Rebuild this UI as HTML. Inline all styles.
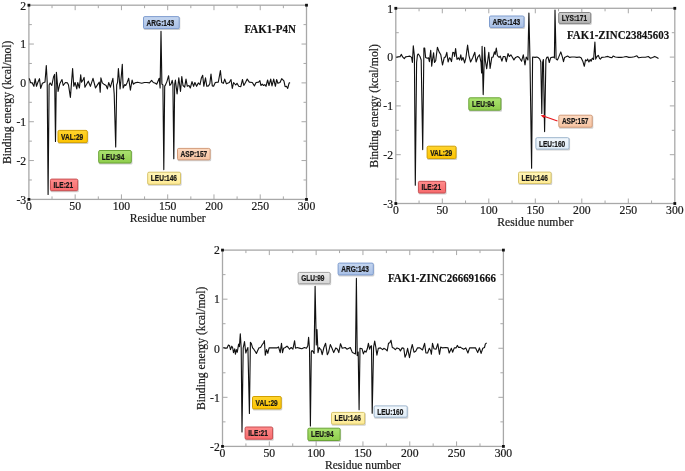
<!DOCTYPE html>
<html><head><meta charset="utf-8"><style>
html,body{margin:0;padding:0;background:#fff;width:685px;height:471px;overflow:hidden;}
svg{display:block;will-change:transform;}

</style></head><body>
<svg width="685" height="471" viewBox="0 0 685 471">
<defs>
<linearGradient id="g_blue" x1="0" y1="0" x2="0" y2="1"><stop offset="0" stop-color="#c5d6f0"/><stop offset="1" stop-color="#a9c0e6"/></linearGradient>
<linearGradient id="g_red" x1="0" y1="0" x2="0" y2="1"><stop offset="0" stop-color="#ff8c8c"/><stop offset="1" stop-color="#f76a6c"/></linearGradient>
<linearGradient id="g_gold" x1="0" y1="0" x2="0" y2="1"><stop offset="0" stop-color="#ffd52e"/><stop offset="1" stop-color="#fdc300"/></linearGradient>
<linearGradient id="g_green" x1="0" y1="0" x2="0" y2="1"><stop offset="0" stop-color="#abe271"/><stop offset="1" stop-color="#8fce4c"/></linearGradient>
<linearGradient id="g_yellow" x1="0" y1="0" x2="0" y2="1"><stop offset="0" stop-color="#fff5b8"/><stop offset="1" stop-color="#ffeb94"/></linearGradient>
<linearGradient id="g_peach" x1="0" y1="0" x2="0" y2="1"><stop offset="0" stop-color="#fcd9c0"/><stop offset="1" stop-color="#f6c3a1"/></linearGradient>
<linearGradient id="g_gray" x1="0" y1="0" x2="0" y2="1"><stop offset="0" stop-color="#cdcdcd"/><stop offset="1" stop-color="#b2b2b2"/></linearGradient>
<linearGradient id="g_lgray" x1="0" y1="0" x2="0" y2="1"><stop offset="0" stop-color="#ececec"/><stop offset="1" stop-color="#d5d5d5"/></linearGradient>
<linearGradient id="g_lblue" x1="0" y1="0" x2="0" y2="1"><stop offset="0" stop-color="#f3f8fd"/><stop offset="1" stop-color="#e0edf8"/></linearGradient>
</defs>
<rect width="685" height="471" fill="#fff"/>
<rect x="28.9" y="5.2" width="277.60" height="194.20" fill="none" stroke="#a8a8a8" stroke-width="1.3"/>
<line x1="52.03" y1="199.4" x2="52.03" y2="196.4" stroke="#a8a8a8" stroke-width="1"/>
<line x1="52.03" y1="5.2" x2="52.03" y2="8.2" stroke="#a8a8a8" stroke-width="1"/>
<line x1="75.17" y1="199.4" x2="75.17" y2="194.4" stroke="#a8a8a8" stroke-width="1"/>
<line x1="75.17" y1="5.2" x2="75.17" y2="10.2" stroke="#a8a8a8" stroke-width="1"/>
<line x1="98.30" y1="199.4" x2="98.30" y2="196.4" stroke="#a8a8a8" stroke-width="1"/>
<line x1="98.30" y1="5.2" x2="98.30" y2="8.2" stroke="#a8a8a8" stroke-width="1"/>
<line x1="121.43" y1="199.4" x2="121.43" y2="194.4" stroke="#a8a8a8" stroke-width="1"/>
<line x1="121.43" y1="5.2" x2="121.43" y2="10.2" stroke="#a8a8a8" stroke-width="1"/>
<line x1="144.57" y1="199.4" x2="144.57" y2="196.4" stroke="#a8a8a8" stroke-width="1"/>
<line x1="144.57" y1="5.2" x2="144.57" y2="8.2" stroke="#a8a8a8" stroke-width="1"/>
<line x1="167.70" y1="199.4" x2="167.70" y2="194.4" stroke="#a8a8a8" stroke-width="1"/>
<line x1="167.70" y1="5.2" x2="167.70" y2="10.2" stroke="#a8a8a8" stroke-width="1"/>
<line x1="190.83" y1="199.4" x2="190.83" y2="196.4" stroke="#a8a8a8" stroke-width="1"/>
<line x1="190.83" y1="5.2" x2="190.83" y2="8.2" stroke="#a8a8a8" stroke-width="1"/>
<line x1="213.97" y1="199.4" x2="213.97" y2="194.4" stroke="#a8a8a8" stroke-width="1"/>
<line x1="213.97" y1="5.2" x2="213.97" y2="10.2" stroke="#a8a8a8" stroke-width="1"/>
<line x1="237.10" y1="199.4" x2="237.10" y2="196.4" stroke="#a8a8a8" stroke-width="1"/>
<line x1="237.10" y1="5.2" x2="237.10" y2="8.2" stroke="#a8a8a8" stroke-width="1"/>
<line x1="260.23" y1="199.4" x2="260.23" y2="194.4" stroke="#a8a8a8" stroke-width="1"/>
<line x1="260.23" y1="5.2" x2="260.23" y2="10.2" stroke="#a8a8a8" stroke-width="1"/>
<line x1="283.37" y1="199.4" x2="283.37" y2="196.4" stroke="#a8a8a8" stroke-width="1"/>
<line x1="283.37" y1="5.2" x2="283.37" y2="8.2" stroke="#a8a8a8" stroke-width="1"/>
<line x1="28.9" y1="179.98" x2="31.9" y2="179.98" stroke="#a8a8a8" stroke-width="1"/>
<line x1="306.5" y1="179.98" x2="303.5" y2="179.98" stroke="#a8a8a8" stroke-width="1"/>
<line x1="28.9" y1="160.56" x2="33.9" y2="160.56" stroke="#a8a8a8" stroke-width="1"/>
<line x1="306.5" y1="160.56" x2="301.5" y2="160.56" stroke="#a8a8a8" stroke-width="1"/>
<line x1="28.9" y1="141.14" x2="31.9" y2="141.14" stroke="#a8a8a8" stroke-width="1"/>
<line x1="306.5" y1="141.14" x2="303.5" y2="141.14" stroke="#a8a8a8" stroke-width="1"/>
<line x1="28.9" y1="121.72" x2="33.9" y2="121.72" stroke="#a8a8a8" stroke-width="1"/>
<line x1="306.5" y1="121.72" x2="301.5" y2="121.72" stroke="#a8a8a8" stroke-width="1"/>
<line x1="28.9" y1="102.30" x2="31.9" y2="102.30" stroke="#a8a8a8" stroke-width="1"/>
<line x1="306.5" y1="102.30" x2="303.5" y2="102.30" stroke="#a8a8a8" stroke-width="1"/>
<line x1="28.9" y1="82.88" x2="33.9" y2="82.88" stroke="#a8a8a8" stroke-width="1"/>
<line x1="306.5" y1="82.88" x2="301.5" y2="82.88" stroke="#a8a8a8" stroke-width="1"/>
<line x1="28.9" y1="63.46" x2="31.9" y2="63.46" stroke="#a8a8a8" stroke-width="1"/>
<line x1="306.5" y1="63.46" x2="303.5" y2="63.46" stroke="#a8a8a8" stroke-width="1"/>
<line x1="28.9" y1="44.04" x2="33.9" y2="44.04" stroke="#a8a8a8" stroke-width="1"/>
<line x1="306.5" y1="44.04" x2="301.5" y2="44.04" stroke="#a8a8a8" stroke-width="1"/>
<line x1="28.9" y1="24.62" x2="31.9" y2="24.62" stroke="#a8a8a8" stroke-width="1"/>
<line x1="306.5" y1="24.62" x2="303.5" y2="24.62" stroke="#a8a8a8" stroke-width="1"/>
<rect x="27.50" y="3.80" width="2.8" height="2.8" fill="#111"/>
<rect x="305.10" y="3.80" width="2.8" height="2.8" fill="#111"/>
<rect x="27.50" y="198.00" width="2.8" height="2.8" fill="#111"/>
<rect x="305.10" y="198.00" width="2.8" height="2.8" fill="#111"/>
<text x="28.90" y="210.30" text-anchor="middle" font-family="Liberation Serif" font-size="11.7" fill="#1a1a1a" stroke="#1a1a1a" stroke-width="0.2">0</text>
<text x="75.17" y="210.30" text-anchor="middle" font-family="Liberation Serif" font-size="11.7" fill="#1a1a1a" stroke="#1a1a1a" stroke-width="0.2">50</text>
<text x="121.43" y="210.30" text-anchor="middle" font-family="Liberation Serif" font-size="11.7" fill="#1a1a1a" stroke="#1a1a1a" stroke-width="0.2">100</text>
<text x="167.70" y="210.30" text-anchor="middle" font-family="Liberation Serif" font-size="11.7" fill="#1a1a1a" stroke="#1a1a1a" stroke-width="0.2">150</text>
<text x="213.97" y="210.30" text-anchor="middle" font-family="Liberation Serif" font-size="11.7" fill="#1a1a1a" stroke="#1a1a1a" stroke-width="0.2">200</text>
<text x="260.23" y="210.30" text-anchor="middle" font-family="Liberation Serif" font-size="11.7" fill="#1a1a1a" stroke="#1a1a1a" stroke-width="0.2">250</text>
<text x="306.50" y="210.30" text-anchor="middle" font-family="Liberation Serif" font-size="11.7" fill="#1a1a1a" stroke="#1a1a1a" stroke-width="0.2">300</text>
<text x="26.20" y="203.70" text-anchor="end" font-family="Liberation Serif" font-size="11.7" fill="#1a1a1a" stroke="#1a1a1a" stroke-width="0.2">-3</text>
<text x="26.20" y="164.86" text-anchor="end" font-family="Liberation Serif" font-size="11.7" fill="#1a1a1a" stroke="#1a1a1a" stroke-width="0.2">-2</text>
<text x="26.20" y="126.02" text-anchor="end" font-family="Liberation Serif" font-size="11.7" fill="#1a1a1a" stroke="#1a1a1a" stroke-width="0.2">-1</text>
<text x="26.20" y="87.18" text-anchor="end" font-family="Liberation Serif" font-size="11.7" fill="#1a1a1a" stroke="#1a1a1a" stroke-width="0.2">0</text>
<text x="26.20" y="48.34" text-anchor="end" font-family="Liberation Serif" font-size="11.7" fill="#1a1a1a" stroke="#1a1a1a" stroke-width="0.2">1</text>
<text x="26.20" y="9.50" text-anchor="end" font-family="Liberation Serif" font-size="11.7" fill="#1a1a1a" stroke="#1a1a1a" stroke-width="0.2">2</text>
<text x="167.70" y="221.90" text-anchor="middle" font-family="Liberation Serif" font-size="11.7" fill="#1a1a1a" stroke="#1a1a1a" stroke-width="0.2" textLength="76" lengthAdjust="spacingAndGlyphs">Residue number</text>
<text transform="translate(11.10,102.30) rotate(-90)" x="0" y="0" text-anchor="middle" font-family="Liberation Serif" font-size="11.7" fill="#1a1a1a" stroke="#1a1a1a" stroke-width="0.2" textLength="123.5" lengthAdjust="spacingAndGlyphs">Binding energy (kcal/mol)</text>
<path d="M29.30,78.30 L30.50,82.50 L32.20,82.90 L33.90,86.30 L35.20,78.70 L36.50,86.30 L37.80,82.50 L39.50,78.70 L40.70,88.40 L42.40,83.30 L45.00,82.10 L46.30,65.50 L47.20,82.00 L48.10,194.40 L49.10,85.00 L50.10,82.90 L51.80,85.50 L53.50,77.00 L54.60,74.40 L55.50,141.50 L56.40,72.30 L58.10,91.40 L59.80,83.80 L62.00,79.50 L63.20,85.50 L65.40,82.50 L67.50,82.90 L68.50,85.00 L70.40,97.40 L72.60,68.50 L73.80,86.30 L75.10,82.50 L76.80,88.90 L77.70,82.50 L79.40,88.00 L80.70,74.90 L81.50,82.10 L82.80,80.40 L84.10,77.40 L84.90,87.20 L86.60,84.20 L88.30,81.20 L90.40,86.30 L93.00,78.30 L95.50,88.00 L97.60,84.60 L99.30,82.10 L100.20,92.30 L100.90,77.80 L102.30,82.90 L104.40,84.60 L106.10,85.50 L107.40,88.90 L108.70,82.50 L110.40,87.20 L112.90,78.30 L114.20,94.00 L115.70,147.00 L116.70,85.00 L117.60,82.10 L118.40,68.50 L120.10,88.90 L121.40,75.00 L122.30,64.20 L123.10,88.00 L124.80,84.60 L125.70,85.50 L127.00,82.90 L128.70,78.30 L130.40,90.10 L132.10,80.00 L133.30,84.20 L135.00,82.90 L137.60,82.20 L141.80,83.30 L144.40,82.50 L146.90,82.50 L149.50,82.90 L151.60,80.40 L153.30,82.50 L155.40,83.30 L156.70,84.20 L158.00,81.20 L159.20,78.30 L160.10,88.00 L161.00,31.30 L161.90,84.00 L162.90,85.00 L163.80,169.60 L164.70,86.00 L165.20,85.50 L166.90,81.60 L168.60,75.70 L169.80,85.50 L171.10,83.80 L172.20,80.40 L172.90,84.00 L173.80,158.70 L174.70,84.00 L175.40,80.00 L177.10,94.00 L178.80,77.80 L180.50,91.40 L181.80,76.60 L183.00,85.50 L184.70,87.20 L186.00,79.10 L187.30,86.30 L189.00,85.50 L190.30,88.00 L192.00,81.60 L193.60,86.30 L194.90,82.50 L196.60,86.30 L198.30,82.90 L200.00,84.60 L201.30,78.30 L202.70,75.30 L203.80,86.30 L205.50,77.80 L206.80,86.30 L208.50,85.90 L209.80,83.80 L211.00,74.00 L212.30,85.90 L213.60,86.30 L215.30,82.50 L218.30,82.10 L220.40,70.60 L221.70,82.50 L223.40,83.30 L224.70,79.10 L226.40,83.80 L229.30,82.50 L231.00,79.50 L232.30,88.40 L233.60,82.50 L235.70,85.00 L237.00,83.30 L238.70,86.30 L240.80,86.70 L242.50,79.50 L243.80,85.50 L245.50,82.50 L247.20,79.10 L249.30,82.10 L252.30,82.50 L254.40,85.90 L256.10,82.50 L258.60,82.10 L259.90,80.60 L260.90,85.50 L262.20,84.20 L263.50,85.50 L264.80,84.60 L266.00,86.30 L267.60,80.00 L269.00,85.50 L270.70,79.10 L272.00,85.90 L273.70,79.10 L275.40,86.30 L276.60,79.50 L277.90,83.30 L280.00,82.50 L281.70,78.70 L283.90,80.80 L285.10,86.70 L286.40,86.30 L287.70,88.40 L289.00,83.30 L290.00,82.50" fill="none" stroke="#111" stroke-width="1.12" stroke-linejoin="round"/>
<rect x="395.8" y="8.3" width="279.00" height="195.20" fill="none" stroke="#a8a8a8" stroke-width="1.3"/>
<line x1="419.05" y1="203.5" x2="419.05" y2="200.5" stroke="#a8a8a8" stroke-width="1"/>
<line x1="419.05" y1="8.3" x2="419.05" y2="11.3" stroke="#a8a8a8" stroke-width="1"/>
<line x1="442.30" y1="203.5" x2="442.30" y2="198.5" stroke="#a8a8a8" stroke-width="1"/>
<line x1="442.30" y1="8.3" x2="442.30" y2="13.3" stroke="#a8a8a8" stroke-width="1"/>
<line x1="465.55" y1="203.5" x2="465.55" y2="200.5" stroke="#a8a8a8" stroke-width="1"/>
<line x1="465.55" y1="8.3" x2="465.55" y2="11.3" stroke="#a8a8a8" stroke-width="1"/>
<line x1="488.80" y1="203.5" x2="488.80" y2="198.5" stroke="#a8a8a8" stroke-width="1"/>
<line x1="488.80" y1="8.3" x2="488.80" y2="13.3" stroke="#a8a8a8" stroke-width="1"/>
<line x1="512.05" y1="203.5" x2="512.05" y2="200.5" stroke="#a8a8a8" stroke-width="1"/>
<line x1="512.05" y1="8.3" x2="512.05" y2="11.3" stroke="#a8a8a8" stroke-width="1"/>
<line x1="535.30" y1="203.5" x2="535.30" y2="198.5" stroke="#a8a8a8" stroke-width="1"/>
<line x1="535.30" y1="8.3" x2="535.30" y2="13.3" stroke="#a8a8a8" stroke-width="1"/>
<line x1="558.55" y1="203.5" x2="558.55" y2="200.5" stroke="#a8a8a8" stroke-width="1"/>
<line x1="558.55" y1="8.3" x2="558.55" y2="11.3" stroke="#a8a8a8" stroke-width="1"/>
<line x1="581.80" y1="203.5" x2="581.80" y2="198.5" stroke="#a8a8a8" stroke-width="1"/>
<line x1="581.80" y1="8.3" x2="581.80" y2="13.3" stroke="#a8a8a8" stroke-width="1"/>
<line x1="605.05" y1="203.5" x2="605.05" y2="200.5" stroke="#a8a8a8" stroke-width="1"/>
<line x1="605.05" y1="8.3" x2="605.05" y2="11.3" stroke="#a8a8a8" stroke-width="1"/>
<line x1="628.30" y1="203.5" x2="628.30" y2="198.5" stroke="#a8a8a8" stroke-width="1"/>
<line x1="628.30" y1="8.3" x2="628.30" y2="13.3" stroke="#a8a8a8" stroke-width="1"/>
<line x1="651.55" y1="203.5" x2="651.55" y2="200.5" stroke="#a8a8a8" stroke-width="1"/>
<line x1="651.55" y1="8.3" x2="651.55" y2="11.3" stroke="#a8a8a8" stroke-width="1"/>
<line x1="395.8" y1="179.10" x2="398.8" y2="179.10" stroke="#a8a8a8" stroke-width="1"/>
<line x1="674.8" y1="179.10" x2="671.8" y2="179.10" stroke="#a8a8a8" stroke-width="1"/>
<line x1="395.8" y1="154.70" x2="400.8" y2="154.70" stroke="#a8a8a8" stroke-width="1"/>
<line x1="674.8" y1="154.70" x2="669.8" y2="154.70" stroke="#a8a8a8" stroke-width="1"/>
<line x1="395.8" y1="130.30" x2="398.8" y2="130.30" stroke="#a8a8a8" stroke-width="1"/>
<line x1="674.8" y1="130.30" x2="671.8" y2="130.30" stroke="#a8a8a8" stroke-width="1"/>
<line x1="395.8" y1="105.90" x2="400.8" y2="105.90" stroke="#a8a8a8" stroke-width="1"/>
<line x1="674.8" y1="105.90" x2="669.8" y2="105.90" stroke="#a8a8a8" stroke-width="1"/>
<line x1="395.8" y1="81.50" x2="398.8" y2="81.50" stroke="#a8a8a8" stroke-width="1"/>
<line x1="674.8" y1="81.50" x2="671.8" y2="81.50" stroke="#a8a8a8" stroke-width="1"/>
<line x1="395.8" y1="57.10" x2="400.8" y2="57.10" stroke="#a8a8a8" stroke-width="1"/>
<line x1="674.8" y1="57.10" x2="669.8" y2="57.10" stroke="#a8a8a8" stroke-width="1"/>
<line x1="395.8" y1="32.70" x2="398.8" y2="32.70" stroke="#a8a8a8" stroke-width="1"/>
<line x1="674.8" y1="32.70" x2="671.8" y2="32.70" stroke="#a8a8a8" stroke-width="1"/>
<rect x="394.40" y="6.90" width="2.8" height="2.8" fill="#111"/>
<rect x="673.40" y="6.90" width="2.8" height="2.8" fill="#111"/>
<rect x="394.40" y="202.10" width="2.8" height="2.8" fill="#111"/>
<rect x="673.40" y="202.10" width="2.8" height="2.8" fill="#111"/>
<text x="395.80" y="214.40" text-anchor="middle" font-family="Liberation Serif" font-size="11.7" fill="#1a1a1a" stroke="#1a1a1a" stroke-width="0.2">0</text>
<text x="442.30" y="214.40" text-anchor="middle" font-family="Liberation Serif" font-size="11.7" fill="#1a1a1a" stroke="#1a1a1a" stroke-width="0.2">50</text>
<text x="488.80" y="214.40" text-anchor="middle" font-family="Liberation Serif" font-size="11.7" fill="#1a1a1a" stroke="#1a1a1a" stroke-width="0.2">100</text>
<text x="535.30" y="214.40" text-anchor="middle" font-family="Liberation Serif" font-size="11.7" fill="#1a1a1a" stroke="#1a1a1a" stroke-width="0.2">150</text>
<text x="581.80" y="214.40" text-anchor="middle" font-family="Liberation Serif" font-size="11.7" fill="#1a1a1a" stroke="#1a1a1a" stroke-width="0.2">200</text>
<text x="628.30" y="214.40" text-anchor="middle" font-family="Liberation Serif" font-size="11.7" fill="#1a1a1a" stroke="#1a1a1a" stroke-width="0.2">250</text>
<text x="674.80" y="214.40" text-anchor="middle" font-family="Liberation Serif" font-size="11.7" fill="#1a1a1a" stroke="#1a1a1a" stroke-width="0.2">300</text>
<text x="393.10" y="207.80" text-anchor="end" font-family="Liberation Serif" font-size="11.7" fill="#1a1a1a" stroke="#1a1a1a" stroke-width="0.2">-3</text>
<text x="393.10" y="159.00" text-anchor="end" font-family="Liberation Serif" font-size="11.7" fill="#1a1a1a" stroke="#1a1a1a" stroke-width="0.2">-2</text>
<text x="393.10" y="110.20" text-anchor="end" font-family="Liberation Serif" font-size="11.7" fill="#1a1a1a" stroke="#1a1a1a" stroke-width="0.2">-1</text>
<text x="393.10" y="61.40" text-anchor="end" font-family="Liberation Serif" font-size="11.7" fill="#1a1a1a" stroke="#1a1a1a" stroke-width="0.2">0</text>
<text x="393.10" y="12.60" text-anchor="end" font-family="Liberation Serif" font-size="11.7" fill="#1a1a1a" stroke="#1a1a1a" stroke-width="0.2">1</text>
<text x="535.30" y="226.00" text-anchor="middle" font-family="Liberation Serif" font-size="11.7" fill="#1a1a1a" stroke="#1a1a1a" stroke-width="0.2" textLength="76" lengthAdjust="spacingAndGlyphs">Residue number</text>
<text transform="translate(378.00,105.90) rotate(-90)" x="0" y="0" text-anchor="middle" font-family="Liberation Serif" font-size="11.7" fill="#1a1a1a" stroke="#1a1a1a" stroke-width="0.2" textLength="123.5" lengthAdjust="spacingAndGlyphs">Binding energy (kcal/mol)</text>
<path d="M396.30,57.40 L398.40,56.70 L400.10,56.50 L401.40,54.40 L402.60,56.90 L404.30,58.60 L405.60,56.90 L407.70,56.50 L409.90,56.10 L411.60,57.40 L412.40,62.50 L413.30,45.90 L414.40,56.00 L415.30,185.20 L416.60,62.50 L417.50,54.80 L418.30,54.00 L420.00,56.50 L421.20,60.00 L422.70,149.60 L423.90,48.00 L424.70,48.00 L425.60,57.40 L427.30,58.20 L428.50,57.80 L429.40,61.60 L430.70,50.20 L431.70,66.30 L432.80,57.80 L433.60,52.70 L434.50,62.50 L435.70,60.80 L437.40,47.20 L439.10,51.90 L440.80,54.80 L442.50,65.00 L444.30,57.40 L445.50,57.00 L446.80,52.30 L448.10,62.00 L449.40,57.80 L450.20,58.20 L451.50,61.60 L452.80,52.30 L454.00,52.70 L454.60,56.50 L455.60,48.50 L457.00,59.50 L458.30,57.80 L459.60,59.90 L460.80,54.80 L461.70,60.30 L463.00,57.40 L464.60,62.90 L465.90,57.80 L467.60,45.10 L468.90,55.30 L470.60,62.00 L472.70,57.80 L474.80,52.30 L476.10,62.00 L477.80,57.00 L479.50,54.80 L481.00,62.50 L481.60,73.00 L482.10,46.30 L483.20,94.60 L484.60,47.20 L485.40,60.80 L486.70,68.80 L488.80,52.30 L490.10,68.40 L491.80,57.40 L493.10,57.00 L494.40,51.90 L495.20,54.40 L496.30,48.00 L497.40,55.70 L499.10,57.40 L500.30,56.10 L501.90,61.20 L503.30,56.50 L505.00,56.50 L506.30,61.60 L508.00,53.60 L509.30,56.50 L510.90,54.80 L512.20,57.00 L513.90,59.90 L515.60,57.40 L517.70,56.50 L519.40,57.80 L521.60,61.20 L523.30,54.80 L525.00,65.00 L526.20,57.00 L527.90,59.90 L528.90,13.00 L530.00,60.80 L531.60,168.30 L532.60,57.00 L535.10,57.40 L536.80,57.00 L538.50,57.80 L539.80,59.10 L540.80,62.00 L541.80,113.50 L542.60,62.50 L543.40,59.50 L544.60,131.60 L545.90,59.90 L546.80,57.40 L548.00,57.00 L549.30,62.50 L550.60,57.80 L551.90,57.40 L553.60,57.00 L554.40,58.00 L555.00,10.10 L556.10,59.10 L557.40,59.90 L558.60,57.40 L560.80,51.90 L562.50,57.40 L563.50,61.60 L564.60,57.40 L567.60,56.10 L569.70,57.40 L571.80,57.00 L574.40,57.00 L576.90,57.40 L579.40,57.00 L581.10,57.80 L582.80,61.20 L584.30,66.30 L585.50,59.90 L586.80,60.80 L587.70,59.10 L588.90,62.00 L590.20,59.50 L591.10,61.20 L592.30,58.20 L593.60,59.50 L594.90,42.10 L595.70,59.10 L597.00,56.50 L598.30,55.30 L599.60,58.60 L600.40,59.10 L601.70,57.40 L605.10,57.00 L608.00,56.40 L610.20,57.40 L611.90,57.80 L613.10,56.10 L615.30,57.00 L618.70,57.40 L621.20,57.40 L623.70,57.00 L626.30,56.50 L628.80,57.40 L631.80,57.20 L634.30,56.70 L636.90,55.80 L638.60,57.80 L642.00,57.20 L645.40,57.20 L648.30,56.50 L650.50,58.20 L652.60,57.40 L654.70,56.40 L656.80,57.40 L658.50,58.40" fill="none" stroke="#111" stroke-width="1.12" stroke-linejoin="round"/>
<rect x="222.5" y="250.1" width="280.90" height="196.30" fill="none" stroke="#a8a8a8" stroke-width="1.3"/>
<line x1="245.91" y1="446.4" x2="245.91" y2="443.4" stroke="#a8a8a8" stroke-width="1"/>
<line x1="245.91" y1="250.1" x2="245.91" y2="253.1" stroke="#a8a8a8" stroke-width="1"/>
<line x1="269.32" y1="446.4" x2="269.32" y2="441.4" stroke="#a8a8a8" stroke-width="1"/>
<line x1="269.32" y1="250.1" x2="269.32" y2="255.1" stroke="#a8a8a8" stroke-width="1"/>
<line x1="292.73" y1="446.4" x2="292.73" y2="443.4" stroke="#a8a8a8" stroke-width="1"/>
<line x1="292.73" y1="250.1" x2="292.73" y2="253.1" stroke="#a8a8a8" stroke-width="1"/>
<line x1="316.13" y1="446.4" x2="316.13" y2="441.4" stroke="#a8a8a8" stroke-width="1"/>
<line x1="316.13" y1="250.1" x2="316.13" y2="255.1" stroke="#a8a8a8" stroke-width="1"/>
<line x1="339.54" y1="446.4" x2="339.54" y2="443.4" stroke="#a8a8a8" stroke-width="1"/>
<line x1="339.54" y1="250.1" x2="339.54" y2="253.1" stroke="#a8a8a8" stroke-width="1"/>
<line x1="362.95" y1="446.4" x2="362.95" y2="441.4" stroke="#a8a8a8" stroke-width="1"/>
<line x1="362.95" y1="250.1" x2="362.95" y2="255.1" stroke="#a8a8a8" stroke-width="1"/>
<line x1="386.36" y1="446.4" x2="386.36" y2="443.4" stroke="#a8a8a8" stroke-width="1"/>
<line x1="386.36" y1="250.1" x2="386.36" y2="253.1" stroke="#a8a8a8" stroke-width="1"/>
<line x1="409.77" y1="446.4" x2="409.77" y2="441.4" stroke="#a8a8a8" stroke-width="1"/>
<line x1="409.77" y1="250.1" x2="409.77" y2="255.1" stroke="#a8a8a8" stroke-width="1"/>
<line x1="433.17" y1="446.4" x2="433.17" y2="443.4" stroke="#a8a8a8" stroke-width="1"/>
<line x1="433.17" y1="250.1" x2="433.17" y2="253.1" stroke="#a8a8a8" stroke-width="1"/>
<line x1="456.58" y1="446.4" x2="456.58" y2="441.4" stroke="#a8a8a8" stroke-width="1"/>
<line x1="456.58" y1="250.1" x2="456.58" y2="255.1" stroke="#a8a8a8" stroke-width="1"/>
<line x1="479.99" y1="446.4" x2="479.99" y2="443.4" stroke="#a8a8a8" stroke-width="1"/>
<line x1="479.99" y1="250.1" x2="479.99" y2="253.1" stroke="#a8a8a8" stroke-width="1"/>
<line x1="222.5" y1="421.86" x2="225.5" y2="421.86" stroke="#a8a8a8" stroke-width="1"/>
<line x1="503.4" y1="421.86" x2="500.4" y2="421.86" stroke="#a8a8a8" stroke-width="1"/>
<line x1="222.5" y1="397.32" x2="227.5" y2="397.32" stroke="#a8a8a8" stroke-width="1"/>
<line x1="503.4" y1="397.32" x2="498.4" y2="397.32" stroke="#a8a8a8" stroke-width="1"/>
<line x1="222.5" y1="372.79" x2="225.5" y2="372.79" stroke="#a8a8a8" stroke-width="1"/>
<line x1="503.4" y1="372.79" x2="500.4" y2="372.79" stroke="#a8a8a8" stroke-width="1"/>
<line x1="222.5" y1="348.25" x2="227.5" y2="348.25" stroke="#a8a8a8" stroke-width="1"/>
<line x1="503.4" y1="348.25" x2="498.4" y2="348.25" stroke="#a8a8a8" stroke-width="1"/>
<line x1="222.5" y1="323.71" x2="225.5" y2="323.71" stroke="#a8a8a8" stroke-width="1"/>
<line x1="503.4" y1="323.71" x2="500.4" y2="323.71" stroke="#a8a8a8" stroke-width="1"/>
<line x1="222.5" y1="299.18" x2="227.5" y2="299.18" stroke="#a8a8a8" stroke-width="1"/>
<line x1="503.4" y1="299.18" x2="498.4" y2="299.18" stroke="#a8a8a8" stroke-width="1"/>
<line x1="222.5" y1="274.64" x2="225.5" y2="274.64" stroke="#a8a8a8" stroke-width="1"/>
<line x1="503.4" y1="274.64" x2="500.4" y2="274.64" stroke="#a8a8a8" stroke-width="1"/>
<rect x="221.10" y="248.70" width="2.8" height="2.8" fill="#111"/>
<rect x="502.00" y="248.70" width="2.8" height="2.8" fill="#111"/>
<rect x="221.10" y="445.00" width="2.8" height="2.8" fill="#111"/>
<rect x="502.00" y="445.00" width="2.8" height="2.8" fill="#111"/>
<text x="222.50" y="457.30" text-anchor="middle" font-family="Liberation Serif" font-size="11.7" fill="#1a1a1a" stroke="#1a1a1a" stroke-width="0.2">0</text>
<text x="269.32" y="457.30" text-anchor="middle" font-family="Liberation Serif" font-size="11.7" fill="#1a1a1a" stroke="#1a1a1a" stroke-width="0.2">50</text>
<text x="316.13" y="457.30" text-anchor="middle" font-family="Liberation Serif" font-size="11.7" fill="#1a1a1a" stroke="#1a1a1a" stroke-width="0.2">100</text>
<text x="362.95" y="457.30" text-anchor="middle" font-family="Liberation Serif" font-size="11.7" fill="#1a1a1a" stroke="#1a1a1a" stroke-width="0.2">150</text>
<text x="409.77" y="457.30" text-anchor="middle" font-family="Liberation Serif" font-size="11.7" fill="#1a1a1a" stroke="#1a1a1a" stroke-width="0.2">200</text>
<text x="456.58" y="457.30" text-anchor="middle" font-family="Liberation Serif" font-size="11.7" fill="#1a1a1a" stroke="#1a1a1a" stroke-width="0.2">250</text>
<text x="503.40" y="457.30" text-anchor="middle" font-family="Liberation Serif" font-size="11.7" fill="#1a1a1a" stroke="#1a1a1a" stroke-width="0.2">300</text>
<text x="219.80" y="450.70" text-anchor="end" font-family="Liberation Serif" font-size="11.7" fill="#1a1a1a" stroke="#1a1a1a" stroke-width="0.2">-2</text>
<text x="219.80" y="401.62" text-anchor="end" font-family="Liberation Serif" font-size="11.7" fill="#1a1a1a" stroke="#1a1a1a" stroke-width="0.2">-1</text>
<text x="219.80" y="352.55" text-anchor="end" font-family="Liberation Serif" font-size="11.7" fill="#1a1a1a" stroke="#1a1a1a" stroke-width="0.2">0</text>
<text x="219.80" y="303.48" text-anchor="end" font-family="Liberation Serif" font-size="11.7" fill="#1a1a1a" stroke="#1a1a1a" stroke-width="0.2">1</text>
<text x="219.80" y="254.40" text-anchor="end" font-family="Liberation Serif" font-size="11.7" fill="#1a1a1a" stroke="#1a1a1a" stroke-width="0.2">2</text>
<text x="362.95" y="468.90" text-anchor="middle" font-family="Liberation Serif" font-size="11.7" fill="#1a1a1a" stroke="#1a1a1a" stroke-width="0.2" textLength="76" lengthAdjust="spacingAndGlyphs">Residue number</text>
<text transform="translate(204.70,348.25) rotate(-90)" x="0" y="0" text-anchor="middle" font-family="Liberation Serif" font-size="11.7" fill="#1a1a1a" stroke="#1a1a1a" stroke-width="0.2" textLength="123.5" lengthAdjust="spacingAndGlyphs">Binding energy (kcal/mol)</text>
<path d="M223.30,347.50 L225.40,348.10 L227.10,347.90 L228.40,345.00 L229.60,345.80 L230.50,349.60 L231.80,346.20 L232.60,347.50 L233.50,352.60 L234.70,348.80 L235.40,354.30 L236.40,349.60 L237.30,352.20 L238.60,344.10 L239.40,346.60 L240.30,333.90 L241.20,348.00 L242.00,432.00 L243.20,348.00 L244.50,341.60 L245.80,353.00 L246.60,350.50 L247.90,347.50 L249.40,413.40 L250.40,342.40 L251.30,343.30 L252.60,347.90 L253.80,349.20 L255.10,351.30 L256.40,353.40 L257.70,350.50 L258.90,347.90 L260.60,347.50 L262.30,344.50 L263.60,342.80 L264.40,340.70 L265.30,355.10 L266.60,349.60 L267.80,353.40 L269.10,347.90 L270.80,347.90 L273.40,347.90 L277.20,347.90 L278.50,346.90 L280.20,352.60 L281.50,343.30 L282.50,352.60 L283.60,348.30 L285.30,347.50 L287.00,346.10 L288.30,347.50 L289.50,349.20 L291.20,347.50 L292.90,349.20 L294.60,340.70 L295.50,348.30 L297.20,347.50 L299.30,348.10 L301.80,348.80 L304.40,347.50 L306.50,348.30 L307.80,345.80 L308.60,337.30 L309.50,348.80 L310.40,425.90 L311.30,352.00 L312.00,350.50 L312.90,351.30 L314.10,353.40 L315.10,286.30 L316.30,345.00 L317.00,329.50 L318.00,352.60 L319.20,347.50 L319.70,348.30 L321.00,349.60 L322.20,354.70 L323.90,347.50 L325.60,343.30 L327.30,354.70 L328.60,352.20 L330.30,344.50 L332.00,348.30 L333.70,352.60 L335.80,347.90 L337.50,349.20 L338.80,352.60 L340.50,343.70 L342.20,348.30 L345.20,347.50 L346.90,349.20 L350.30,347.50 L352.40,352.60 L354.50,353.40 L355.50,353.90 L356.40,278.40 L357.20,355.60 L358.20,352.00 L359.10,409.80 L360.00,348.30 L362.10,348.80 L363.40,353.90 L364.70,350.90 L366.00,352.20 L367.30,348.80 L368.40,343.30 L369.60,349.20 L370.70,346.20 L371.50,345.80 L372.20,413.30 L373.60,347.10 L374.70,341.10 L375.80,347.10 L376.90,355.10 L378.30,348.30 L380.40,347.90 L382.60,349.60 L383.80,348.30 L385.50,349.20 L387.20,350.90 L388.50,343.30 L389.80,342.80 L391.00,340.30 L392.30,347.50 L394.00,348.30 L395.30,349.60 L397.00,347.90 L399.10,348.80 L400.40,350.90 L402.10,347.90 L403.80,348.30 L405.00,357.30 L406.30,354.30 L407.60,348.30 L409.50,357.70 L411.00,349.60 L412.30,344.50 L414.00,352.20 L415.70,351.30 L417.40,347.90 L419.90,347.90 L422.50,350.00 L424.60,343.30 L425.90,353.00 L427.60,353.00 L429.30,348.30 L430.60,350.50 L431.40,354.30 L432.50,343.30 L434.00,348.80 L436.10,349.20 L437.80,343.70 L439.50,354.30 L440.70,347.10 L442.40,347.90 L445.80,347.50 L448.00,347.90 L449.20,353.00 L451.40,348.30 L452.60,352.20 L454.30,347.90 L456.00,347.90 L457.30,345.40 L458.60,347.50 L460.30,347.10 L461.50,347.90 L463.70,349.20 L465.80,347.90 L467.90,353.00 L469.60,347.90 L472.20,347.80 L475.60,347.90 L477.70,352.60 L479.40,347.90 L481.10,353.40 L482.80,348.30 L484.50,347.50 L485.30,344.10 L486.60,342.80" fill="none" stroke="#111" stroke-width="1.12" stroke-linejoin="round"/>
<rect x="143.60" y="17.10" width="36.70" height="13.00" rx="1.3" fill="#000" opacity="0.18"/>
<rect x="143.50" y="16.60" width="35.70" height="12.00" rx="1.3" fill="url(#g_blue)" stroke="#7f9dcf" stroke-width="1"/>
<text x="146.60" y="25.70" font-family="Liberation Sans" font-weight="bold" font-size="8.3" fill="#151515" stroke="#151515" stroke-width="0.22" textLength="27.67" lengthAdjust="spacingAndGlyphs">ARG:143</text>
<rect x="58.10" y="130.90" width="30.30" height="13.20" rx="1.3" fill="#000" opacity="0.18"/>
<rect x="58.00" y="130.40" width="29.30" height="12.20" rx="1.3" fill="url(#g_gold)" stroke="#d2a000" stroke-width="1"/>
<text x="61.10" y="139.60" font-family="Liberation Sans" font-weight="bold" font-size="8.3" fill="#151515" stroke="#151515" stroke-width="0.22" textLength="22.08" lengthAdjust="spacingAndGlyphs">VAL:29</text>
<rect x="98.80" y="151.00" width="33.60" height="13.50" rx="1.3" fill="#000" opacity="0.18"/>
<rect x="98.70" y="150.50" width="32.60" height="12.50" rx="1.3" fill="url(#g_green)" stroke="#6aa437" stroke-width="1"/>
<text x="101.80" y="159.85" font-family="Liberation Sans" font-weight="bold" font-size="8.3" fill="#151515" stroke="#151515" stroke-width="0.22" textLength="22.57" lengthAdjust="spacingAndGlyphs">LEU:94</text>
<rect x="50.50" y="179.60" width="28.30" height="12.60" rx="1.3" fill="#000" opacity="0.18"/>
<rect x="50.40" y="179.10" width="27.30" height="11.60" rx="1.3" fill="url(#g_red)" stroke="#c94f52" stroke-width="1"/>
<text x="53.50" y="188.00" font-family="Liberation Sans" font-weight="bold" font-size="8.3" fill="#151515" stroke="#151515" stroke-width="0.22" textLength="19.66" lengthAdjust="spacingAndGlyphs">ILE:21</text>
<rect x="177.60" y="148.90" width="33.60" height="12.40" rx="1.3" fill="#000" opacity="0.18"/>
<rect x="177.50" y="148.40" width="32.60" height="11.40" rx="1.3" fill="url(#g_peach)" stroke="#d39c7a" stroke-width="1"/>
<text x="180.60" y="157.20" font-family="Liberation Sans" font-weight="bold" font-size="8.3" fill="#151515" stroke="#151515" stroke-width="0.22" textLength="26.58" lengthAdjust="spacingAndGlyphs">ASP:157</text>
<rect x="147.80" y="172.70" width="33.80" height="13.10" rx="1.3" fill="#000" opacity="0.18"/>
<rect x="147.70" y="172.20" width="32.80" height="12.10" rx="1.3" fill="url(#g_yellow)" stroke="#d8c46a" stroke-width="1"/>
<text x="150.80" y="181.35" font-family="Liberation Sans" font-weight="bold" font-size="8.3" fill="#151515" stroke="#151515" stroke-width="0.22" textLength="26.21" lengthAdjust="spacingAndGlyphs">LEU:146</text>
<rect x="489.60" y="16.50" width="35.50" height="12.40" rx="1.3" fill="#000" opacity="0.18"/>
<rect x="489.50" y="16.00" width="34.50" height="11.40" rx="1.3" fill="url(#g_blue)" stroke="#7f9dcf" stroke-width="1"/>
<text x="492.60" y="24.80" font-family="Liberation Sans" font-weight="bold" font-size="8.3" fill="#151515" stroke="#151515" stroke-width="0.22" textLength="27.67" lengthAdjust="spacingAndGlyphs">ARG:143</text>
<rect x="558.80" y="13.00" width="33.00" height="11.90" rx="1.3" fill="#000" opacity="0.18"/>
<rect x="558.70" y="12.50" width="32.00" height="10.90" rx="1.3" fill="url(#g_gray)" stroke="#878787" stroke-width="1"/>
<text x="561.80" y="21.05" font-family="Liberation Sans" font-weight="bold" font-size="8.3" fill="#151515" stroke="#151515" stroke-width="0.22" textLength="25.25" lengthAdjust="spacingAndGlyphs">LYS:171</text>
<rect x="468.90" y="98.30" width="33.10" height="13.40" rx="1.3" fill="#000" opacity="0.18"/>
<rect x="468.80" y="97.80" width="32.10" height="12.40" rx="1.3" fill="url(#g_green)" stroke="#6aa437" stroke-width="1"/>
<text x="471.90" y="107.10" font-family="Liberation Sans" font-weight="bold" font-size="8.3" fill="#151515" stroke="#151515" stroke-width="0.22" textLength="22.57" lengthAdjust="spacingAndGlyphs">LEU:94</text>
<rect x="427.20" y="146.70" width="29.90" height="13.40" rx="1.3" fill="#000" opacity="0.18"/>
<rect x="427.10" y="146.20" width="28.90" height="12.40" rx="1.3" fill="url(#g_gold)" stroke="#d2a000" stroke-width="1"/>
<text x="430.20" y="155.50" font-family="Liberation Sans" font-weight="bold" font-size="8.3" fill="#151515" stroke="#151515" stroke-width="0.22" textLength="22.08" lengthAdjust="spacingAndGlyphs">VAL:29</text>
<rect x="418.50" y="181.80" width="28.10" height="12.70" rx="1.3" fill="#000" opacity="0.18"/>
<rect x="418.40" y="181.30" width="27.10" height="11.70" rx="1.3" fill="url(#g_red)" stroke="#c94f52" stroke-width="1"/>
<text x="421.50" y="190.25" font-family="Liberation Sans" font-weight="bold" font-size="8.3" fill="#151515" stroke="#151515" stroke-width="0.22" textLength="19.66" lengthAdjust="spacingAndGlyphs">ILE:21</text>
<rect x="558.90" y="115.70" width="34.40" height="13.00" rx="1.3" fill="#000" opacity="0.18"/>
<rect x="558.80" y="115.20" width="33.40" height="12.00" rx="1.3" fill="url(#g_peach)" stroke="#d39c7a" stroke-width="1"/>
<text x="561.90" y="124.30" font-family="Liberation Sans" font-weight="bold" font-size="8.3" fill="#151515" stroke="#151515" stroke-width="0.22" textLength="26.58" lengthAdjust="spacingAndGlyphs">ASP:157</text>
<rect x="536.00" y="138.20" width="34.10" height="12.40" rx="1.3" fill="#000" opacity="0.18"/>
<rect x="535.90" y="137.70" width="33.10" height="11.40" rx="1.3" fill="url(#g_lblue)" stroke="#9cb4cc" stroke-width="1"/>
<text x="539.00" y="146.50" font-family="Liberation Sans" font-weight="bold" font-size="8.3" fill="#151515" stroke="#151515" stroke-width="0.22" textLength="26.21" lengthAdjust="spacingAndGlyphs">LEU:160</text>
<rect x="518.60" y="172.60" width="33.60" height="12.40" rx="1.3" fill="#000" opacity="0.18"/>
<rect x="518.50" y="172.10" width="32.60" height="11.40" rx="1.3" fill="url(#g_yellow)" stroke="#d8c46a" stroke-width="1"/>
<text x="521.60" y="180.90" font-family="Liberation Sans" font-weight="bold" font-size="8.3" fill="#151515" stroke="#151515" stroke-width="0.22" textLength="26.21" lengthAdjust="spacingAndGlyphs">LEU:146</text>
<rect x="298.20" y="272.90" width="33.00" height="12.30" rx="1.3" fill="#000" opacity="0.18"/>
<rect x="298.10" y="272.40" width="32.00" height="11.30" rx="1.3" fill="url(#g_lgray)" stroke="#a3a3a3" stroke-width="1"/>
<text x="301.20" y="281.15" font-family="Liberation Sans" font-weight="bold" font-size="8.3" fill="#151515" stroke="#151515" stroke-width="0.22" textLength="23.29" lengthAdjust="spacingAndGlyphs">GLU:99</text>
<rect x="338.20" y="263.60" width="36.20" height="12.80" rx="1.3" fill="#000" opacity="0.18"/>
<rect x="338.10" y="263.10" width="35.20" height="11.80" rx="1.3" fill="url(#g_blue)" stroke="#7f9dcf" stroke-width="1"/>
<text x="341.20" y="272.10" font-family="Liberation Sans" font-weight="bold" font-size="8.3" fill="#151515" stroke="#151515" stroke-width="0.22" textLength="27.67" lengthAdjust="spacingAndGlyphs">ARG:143</text>
<rect x="252.60" y="397.00" width="29.70" height="13.40" rx="1.3" fill="#000" opacity="0.18"/>
<rect x="252.50" y="396.50" width="28.70" height="12.40" rx="1.3" fill="url(#g_gold)" stroke="#d2a000" stroke-width="1"/>
<text x="255.60" y="405.80" font-family="Liberation Sans" font-weight="bold" font-size="8.3" fill="#151515" stroke="#151515" stroke-width="0.22" textLength="22.08" lengthAdjust="spacingAndGlyphs">VAL:29</text>
<rect x="245.20" y="427.50" width="28.50" height="13.20" rx="1.3" fill="#000" opacity="0.18"/>
<rect x="245.10" y="427.00" width="27.50" height="12.20" rx="1.3" fill="url(#g_red)" stroke="#c94f52" stroke-width="1"/>
<text x="248.20" y="436.20" font-family="Liberation Sans" font-weight="bold" font-size="8.3" fill="#151515" stroke="#151515" stroke-width="0.22" textLength="19.66" lengthAdjust="spacingAndGlyphs">ILE:21</text>
<rect x="308.00" y="428.70" width="33.20" height="13.30" rx="1.3" fill="#000" opacity="0.18"/>
<rect x="307.90" y="428.20" width="32.20" height="12.30" rx="1.3" fill="url(#g_green)" stroke="#6aa437" stroke-width="1"/>
<text x="311.00" y="437.45" font-family="Liberation Sans" font-weight="bold" font-size="8.3" fill="#151515" stroke="#151515" stroke-width="0.22" textLength="22.57" lengthAdjust="spacingAndGlyphs">LEU:94</text>
<rect x="331.60" y="412.90" width="34.20" height="12.80" rx="1.3" fill="#000" opacity="0.18"/>
<rect x="331.50" y="412.40" width="33.20" height="11.80" rx="1.3" fill="url(#g_yellow)" stroke="#d8c46a" stroke-width="1"/>
<text x="334.60" y="421.40" font-family="Liberation Sans" font-weight="bold" font-size="8.3" fill="#151515" stroke="#151515" stroke-width="0.22" textLength="26.21" lengthAdjust="spacingAndGlyphs">LEU:146</text>
<rect x="374.20" y="406.40" width="34.10" height="12.30" rx="1.3" fill="#000" opacity="0.18"/>
<rect x="374.10" y="405.90" width="33.10" height="11.30" rx="1.3" fill="url(#g_lblue)" stroke="#9cb4cc" stroke-width="1"/>
<text x="377.20" y="414.65" font-family="Liberation Sans" font-weight="bold" font-size="8.3" fill="#151515" stroke="#151515" stroke-width="0.22" textLength="26.21" lengthAdjust="spacingAndGlyphs">LEU:160</text>
<line x1="557.5" y1="121.1" x2="542.5" y2="115.8" stroke="#e8161b" stroke-width="1.1"/>
<path d="M540.6,115.2 L545.2,114.9 L543.9,118.2 Z" fill="#e8161b"/>
<text x="244.4" y="33.4" font-family="Liberation Serif" font-weight="bold" font-size="11.8" fill="#111" stroke="#111" stroke-width="0.15" textLength="51.4" lengthAdjust="spacingAndGlyphs">FAK1-P4N</text>
<text x="567.0" y="38.5" font-family="Liberation Serif" font-weight="bold" font-size="11.8" fill="#111" stroke="#111" stroke-width="0.15" textLength="102.1" lengthAdjust="spacingAndGlyphs">FAK1-ZINC23845603</text>
<text x="387.9" y="282.1" font-family="Liberation Serif" font-weight="bold" font-size="11.8" fill="#111" stroke="#111" stroke-width="0.15" textLength="108.1" lengthAdjust="spacingAndGlyphs">FAK1-ZINC266691666</text>
</svg>
</body></html>
